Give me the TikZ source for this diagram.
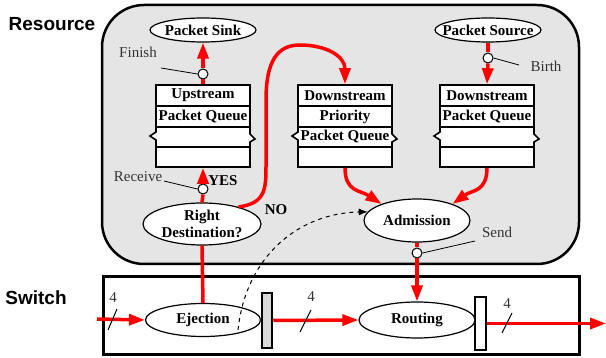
\documentclass[tikz,border=0pt]{standalone}
\usepackage{fontspec}
\setmainfont{Liberation Serif}
\newfontfamily\labsans{Liberation Sans}
\usetikzlibrary{arrows.meta,shapes.geometric}
\tikzset{
  flow/.style={draw=red, line width=3.5pt, -{Triangle[length=16pt,width=11pt]}},
  flowline/.style={draw=red, line width=3.5pt},
  oval/.style={ellipse, draw, line width=1.2pt, fill=white, inner sep=0pt},
  otext/.style={font=\bfseries\fontsize{15}{17}\selectfont, align=center, inner sep=0pt},
  qrow/.style={rectangle, draw, line width=1.6pt, fill=white, minimum width=94pt, minimum height=21pt, inner sep=0pt, font=\bfseries\fontsize{15}{15}\selectfont},
  qbot/.style={qrow, minimum height=20pt},
  port/.style={circle, draw, fill=white, line width=1pt, minimum size=10pt, inner sep=0pt},
  lab/.style={font=\fontsize{15}{15}\selectfont, text=black!80, inner sep=0pt},
  bigtitle/.style={font=\labsans\bfseries\fontsize{19}{19}\selectfont, inner sep=0pt},
  pin/.style={draw, line width=0.8pt},
  slash/.style={draw, line width=1pt},
  bar/.style={rectangle, draw, line width=2.5pt, inner sep=0pt, minimum width=10pt},
  dasharrow/.style={draw, line width=1pt, dash pattern=on 4pt off 4pt, -{Latex[length=9pt,width=7pt]}}
}
\newcommand\zzsec[2]{%
  \draw[line width=1.6pt, fill=white] (#1,127) -- (#2,127) -- (#2,134) -- (#2+5,139) -- (#2,142) -- (#2,147)
     -- (#1,147) -- (#1,140) -- (#1-6,136) -- (#1,132) -- cycle;}
\begin{document}
\begin{tikzpicture}[x=1pt,y=-1pt]
\useasboundingbox (0,0) rectangle (606,358);

% titles
\node[bigtitle] (tres) at (52,24) {Resource};
\node[bigtitle] (tsw) at (36,298) {Switch};

% frames
\draw[line width=2.5pt, fill=black!10, rounded corners=42pt] (102,5) rectangle (579,264);
\draw[line width=3pt, fill=white] (103,277) rectangle (579,355);

% queues
\zzsec{156}{250}
\node[qrow] (up1) at (203,95.5) {Upstream};
\node[qrow] (up2) at (203,116.5) {Packet Queue};
\node[qbot] (upb) at (203,157) {};

\zzsec{298}{392}
\node[qrow] (dp1) at (345,95.5) {Downstream};
\node[qrow] (dp2) at (345,116.5) {Priority};
\node[font=\bfseries\fontsize{15}{15}\selectfont, inner sep=0pt] (dp3) at (345,137) {Packet Queue};
\node[qbot] (dpb) at (345,157) {};

\zzsec{440}{534}
\node[qrow] (dr1) at (487,95.5) {Downstream};
\node[qrow] (dr2) at (487,116.5) {Packet Queue};
\node[qbot] (drb) at (487,157) {};

% ovals
\node[oval, minimum width=106pt, minimum height=24pt] (sink) at (203,30) {};
\node[otext] at (sink) {Packet Sink};
\node[oval, minimum width=106pt, minimum height=24pt] (src) at (488,30) {};
\node[otext] at (src) {Packet Source};
\node[oval, minimum width=118pt, minimum height=42pt] (rd) at (202,224) {};
\node[otext] at (rd) {Right\\Destination?};
\node[oval, minimum width=106pt, minimum height=43pt] (adm) at (417,220.5) {};
\node[otext] at (adm) {Admission};
\node[oval, minimum width=115pt, minimum height=33pt] (ej) at (203,320) {};
\node[otext] at (ej) {Ejection};
\node[oval, minimum width=116pt, minimum height=36pt] (rt) at (417,320) {};
\node[otext] at (rt) {Routing};

% barriers
\node[bar, fill=black!15, minimum height=55pt] (b1) at (267,320.5) {};
\node[bar, fill=white, minimum width=11pt, minimum height=53pt] (b2) at (480.5,323.5) {};

% ports
\node[port] (fin) at (203,74) {};
\node[port] (brt) at (488,58) {};
\node[port] (rcv) at (203,189) {};
\node[port] (snd) at (417,253) {};

% red flows
\draw[flowline] (up1.north) -- (fin.south);
\draw[flow] (fin.north) -- (sink.south);
\draw[flowline] (src.south) -- (brt.north);
\draw[flow] (brt.south) -- (dr1.north);
\draw[flowline] (rd.north) -- (rcv.south);
\draw[flow] (rcv.north) -- (upb.south);
\draw[flowline] (ej.north) -- (rd.south);
\draw[flow] (rd.25) .. controls (267,203) and (266,188) .. (266,160) -- (266,100)
   .. controls (266,60) and (278,45) .. (300,45) .. controls (326,45) and (345,56) .. (dp1.north);
\draw[flow] (dpb.south) .. controls (345,192) and (360,190) .. (adm.155);
\draw[flow] (drb.south) .. controls (487,192) and (472,190) .. (adm.25);
\draw[flowline] (adm.south) -- (snd.north);
\draw[flow] (snd.south) -- (rt.north);
\coordinate (inp) at (97,319);
\draw[flow] (inp) -- (ej.west);
\draw[flow] (b1.east) -- (rt.west);
\coordinate (outp) at (606,323.5);
\draw[flow] (b2.east) -- (outp);

% dashed control
\coordinate (dst) at (238,330);
\draw[dasharrow] (dst) .. controls (246,255) and (300,213) .. (adm.170);

% port labels
\node[lab] (lfin) at (138,52) {Finish};
\coordinate (pfin) at (161,68);
\draw[pin] (pfin) -- (fin.west);
\node[lab] (lbrt) at (546,66) {Birth};
\coordinate (pbrt) at (519,65);
\draw[pin] (brt.east) -- (pbrt);
\node[lab] (lrcv) at (138,177) {Receive};
\coordinate (prcv) at (164,181);
\draw[pin] (prcv) -- (rcv.west);
\node[lab] (lsnd) at (497,232) {Send};
\coordinate (psnd) at (475,241);
\draw[pin] (snd.east) -- (psnd);

% decision labels
\node[otext] (lyes) at (223,181) {YES};
\node[otext] (lno) at (276,210) {NO};

% bus widths
\node[lab] (w1) at (113,298) {4};
\draw[slash] (108,330) -- (117,309);
\node[lab] (w2) at (311,297) {4};
\draw[slash] (300,332) -- (311,310);
\node[lab] (w3) at (507,304) {4};
\draw[slash] (502,333) -- (512,313);
\end{tikzpicture}
\end{document}
